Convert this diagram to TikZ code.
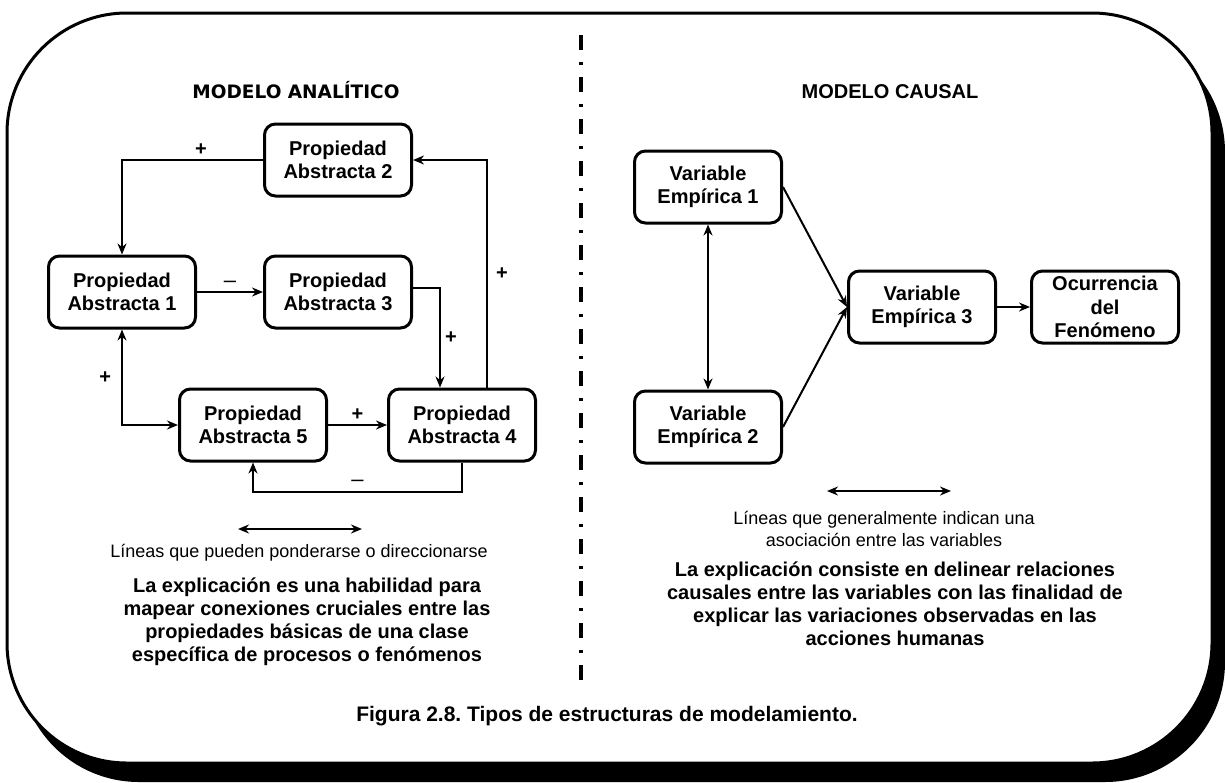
\documentclass[tikz,border=0pt]{standalone}
\usepackage{fontspec}
\setmainfont{Liberation Sans}
\newfontfamily\headfont{DejaVu Sans}
\usetikzlibrary{positioning}
\usetikzlibrary{arrows.meta}
\frenchspacing

\tikzset{
  propbox/.style={draw, line width=1.5pt, rounded corners=5.5pt, fill=white,
    minimum width=73.5pt, minimum height=36pt, inner sep=0pt, align=center,
    font=\fontsize{10}{11.75}\selectfont\bfseries},
  sign/.style={font=\fontsize{10}{12}\selectfont\bfseries, inner sep=2pt},
  conn/.style={line width=1pt},
}

\begin{document}
\begin{tikzpicture}[%
  >={Stealth[length=5.5pt,width=4.5pt]},
  x=0.5pt, y=-0.5pt,
]

  \useasboundingbox (0,0) rectangle (1225,782);

  % marco con sombra
  \fill[rounded corners=60pt] (19,32) rectangle (1225,782);
  \draw[line width=1.5pt, fill=white, rounded corners=60pt] (7,13) rectangle (1212,763);

  % separador
  \draw[line width=2pt, dash pattern=on 7.5pt off 5.75pt on 1.5pt off 6.25pt]
    (581,35) -- (581,680);

  \node[font=\headfont\fontsize{9.25}{11}\selectfont\bfseries] (tan) at (296,90) {MODELO ANALÍTICO};
  \node[font=\fontsize{10}{12}\selectfont\bfseries] (tca) at (890,92) {MODELO CAUSAL};

  % modelo analitico
  \node[propbox] (pa2) at (338,160) {Propiedad\\Abstracta 2};
  \node[propbox] (pa1) at (122,292) {Propiedad\\Abstracta 1};
  \node[propbox] (pa3) at (338,292) {Propiedad\\Abstracta 3};
  \node[propbox] (pa5) at (253,425) {Propiedad\\Abstracta 5};
  \node[propbox] (pa4) at (462,425) {Propiedad\\Abstracta 4};

  \draw[->, conn] (pa2.west) -| node[sign, pos=0.22, above] (m21) {+} (pa1.north);
  \draw[->, conn] (pa1) -- node[sign, above, font=\fontsize{11}{12}\selectfont] (m13) {\textendash} (pa3);
  \draw[->, conn] ([yshift=2pt]pa3.east) -| node[sign, pos=0.75, right] (m34) {+}
    ([xshift=-11pt]pa4.north);
  \draw[->, conn] ([xshift=12.5pt]pa4.north) |- node[sign, pos=0.25, right=2pt] (m42) {+}
    (pa2.east);
  \draw[<->, conn] (pa1.south) |- node[sign, pos=0.25, left=3pt] (m15) {+} (pa5.west);
  \draw[->, conn] (pa5) -- node[sign, above] (m54) {+} (pa4);
  \draw[->, conn] (pa4.south) -- ++(0,29) -| node[sign, pos=0.25, above, font=\fontsize{11}{12}\selectfont] (m45)
    {\textendash} (pa5.south);

  \coordinate (la1) at (238,529);
  \coordinate (la2) at (362,529);
  \draw[<->, conn] (la1) -- (la2);

  \node[font=\fontsize{9}{11}\selectfont] (lt1) at (299,553)
    {Líneas que pueden ponderarse o direccionarse};
  \node[align=center, font=\fontsize{10}{11.5}\selectfont\bfseries] (ex1) at (307,622)
    {La explicación es una habilidad para\\mapear conexiones cruciales entre las\\
     propiedades básicas de una clase\\específica de procesos o fenómenos};

  % modelo causal
  \node[propbox] (ve1) at (708,187) {Variable\\Empírica 1};
  \node[propbox] (ve2) at (708,427) {Variable\\Empírica 2};
  \node[propbox] (ve3) at (922,307) {Variable\\Empírica 3};
  \node[propbox] (oc) at (1105,307) {Ocurrencia\\del\\Fenómeno};

  \draw[<->, conn] (ve1) -- (ve2);
  \draw[->, conn] (ve1.east) -- (ve3.west);
  \draw[->, conn] (ve2.east) -- (ve3.west);
  \draw[->, conn] (ve3) -- (oc);

  \coordinate (lb1) at (827,491);
  \coordinate (lb2) at (951,491);
  \draw[<->, conn] (lb1) -- (lb2);

  \node[align=center, font=\fontsize{9}{11}\selectfont] (lt2) at (884,529)
    {Líneas que generalmente indican una\\asociación entre las variables};
  \node[align=center, font=\fontsize{10}{11.5}\selectfont\bfseries] (ex2) at (895,604)
    {La explicación consiste en delinear relaciones\\causales entre las variables con las finalidad de\\
     explicar las variaciones observadas en las\\acciones humanas};

  \node[font=\fontsize{10.5}{12}\selectfont\bfseries] (cap) at (607,716)
    {Figura 2.8. Tipos de estructuras de modelamiento.};

\end{tikzpicture}
\end{document}
